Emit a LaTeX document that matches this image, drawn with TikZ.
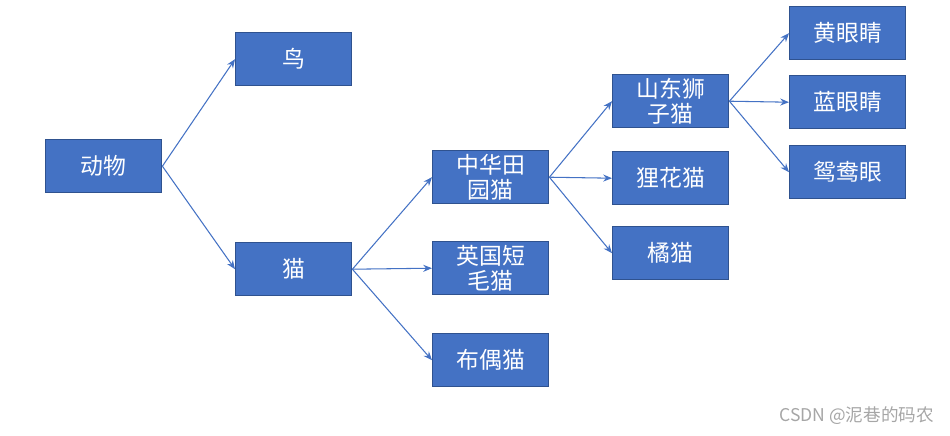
\documentclass[tikz,border=0pt]{standalone}
\usepackage{fontspec}
\setmainfont{Noto Sans CJK SC}
\usetikzlibrary{arrows.meta}
\definecolor{bfill}{HTML}{4472C4}
\definecolor{bline}{HTML}{2F528F}
\tikzset{
 bx/.style={draw=bline,line width=0.8pt,fill=bfill,text=white,minimum width=116*0.02cm,minimum height=53*0.02cm,inner sep=1pt,align=center,font=\fontsize{13}{14}\selectfont,anchor=north west},
 ar/.style={draw=bfill,line width=0.6pt,-{Stealth[length=5pt,width=4pt]}}
}
\begin{document}
\begin{tikzpicture}[x=0.02cm,y=-0.02cm]
\useasboundingbox (0,0) rectangle (950,436);
\node[bx] (dw) at (45,139) {动物};
\node[bx] (niao) at (235,32) {鸟};
\node[bx] (mao) at (235,242) {猫};
\node[bx] (zh) at (432,150) {中华田\\园猫};
\node[bx] (yg) at (432,241) {英国短\\毛猫};
\node[bx] (bo) at (432,333) {布偶猫};
\node[bx] (sd) at (612,74) {山东狮\\子猫};
\node[bx] (lh) at (612,151) {狸花猫};
\node[bx] (jm) at (612,226) {橘猫};
\node[bx] (hy) at (789,6) {黄眼睛};
\node[bx] (ly) at (789,75) {蓝眼睛};
\node[bx] (yy) at (789,145) {鸳鸯眼};
\draw[ar] (dw.east) -- (niao.west);
\draw[ar] (dw.east) -- (mao.west);
\draw[ar] (mao.east) -- (zh.west);
\draw[ar] (mao.east) -- (yg.west);
\draw[ar] (mao.east) -- (bo.west);
\draw[ar] (zh.east) -- (sd.west);
\draw[ar] (zh.east) -- (lh.west);
\draw[ar] (zh.east) -- (jm.west);
\draw[ar] (sd.east) -- (hy.west);
\draw[ar] (sd.east) -- (ly.west);
\draw[ar] (sd.east) -- (yy.west);
\node[text=gray!70,font=\fontsize{10}{11}\selectfont,anchor=east] (wm) at (940,416) {CSDN @泥巷的码农};
\end{tikzpicture}
\end{document}
